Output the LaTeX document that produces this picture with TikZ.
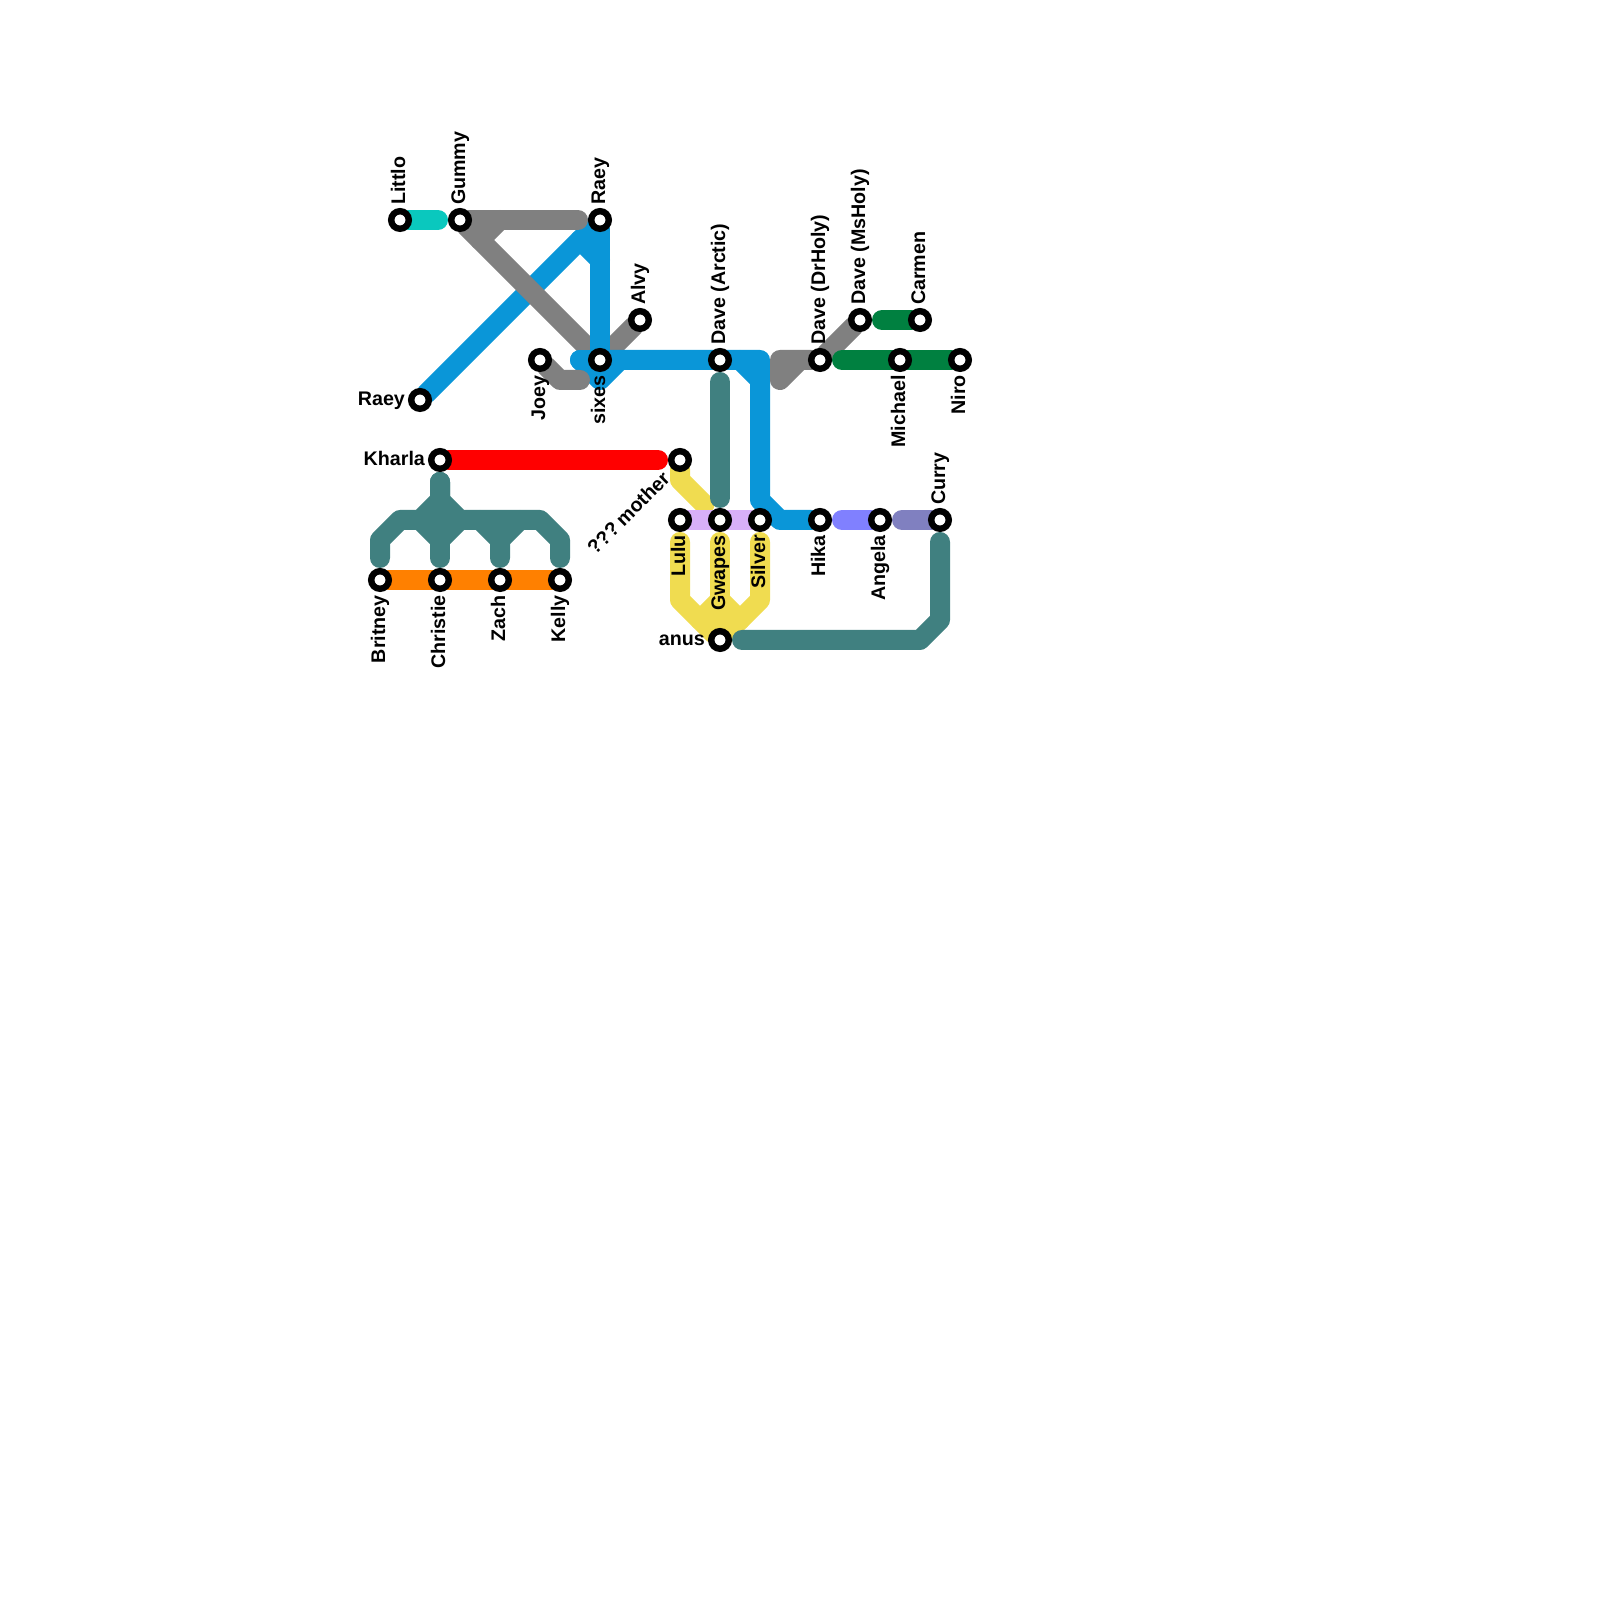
\documentclass[tikz,border=0pt]{standalone}
\usepackage{fontspec}
\setmainfont{Liberation Sans}
\usepackage{tikz}
\usetikzlibrary{backgrounds}

\definecolor{cyanline}{HTML}{0AC8BE}
\definecolor{greyline}{HTML}{808080}
\definecolor{blueline}{HTML}{0A96D8}
\definecolor{tealline}{HTML}{408080}
\definecolor{greenline}{HTML}{008040}
\definecolor{redline}{HTML}{FF0000}
\definecolor{orangeline}{HTML}{FF8000}
\definecolor{yellowline}{HTML}{F0DC50}
\definecolor{lilacline}{HTML}{D8B0F8}
\definecolor{violetline}{HTML}{8080FF}
\definecolor{slateline}{HTML}{8080C0}

\tikzset{
  stop/.style={circle, draw=black, fill=white, line width=.16cm, minimum size=.44cm, inner sep=0, outer sep=0},
  track/.style={line width=.5cm, line cap=round, line join=round},
  tail/.style={shorten <=.33cm},
  head/.style={shorten >=.33cm},
  name text/.style={inner sep=0, font=\fontsize{14}{16}\selectfont\bfseries},
  up text/.style={name text, rotate=90, anchor=base west},
  down text/.style={name text, rotate=90, anchor=base east},
  left text/.style={name text, anchor=base east}
}

\begin{document}
\begin{tikzpicture}
\useasboundingbox (0, 0) rectangle (40, 40);

\node[stop] (littlo) at (10, 34.5) {};
\node[stop] (gummy) at (11.5, 34.5) {};
\node[stop] (raeyn) at (15, 34.5) {};
\node[stop] (raeys) at (10.5, 30) {};
\node[stop] (alvy) at (16, 32) {};
\node[stop] (sixes) at (15, 31) {};
\node[stop] (joey) at (13.5, 31) {};
\node[stop] (arctic) at (18, 31) {};
\node[stop] (drholy) at (20.5, 31) {};
\node[stop] (msholy) at (21.5, 32) {};
\node[stop] (carmen) at (23, 32) {};
\node[stop] (michael) at (22.5, 31) {};
\node[stop] (niro) at (24, 31) {};
\node[stop] (kharla) at (11, 28.5) {};
\node[stop] (mother) at (17, 28.5) {};
\node[stop] (britney) at (9.5, 25.5) {};
\node[stop] (christie) at (11, 25.5) {};
\node[stop] (zach) at (12.5, 25.5) {};
\node[stop] (kelly) at (14, 25.5) {};
\node[stop] (lulu) at (17, 27) {};
\node[stop] (gwapes) at (18, 27) {};
\node[stop] (silver) at (19, 27) {};
\node[stop] (hika) at (20.5, 27) {};
\node[stop] (angela) at (22, 27) {};
\node[stop] (curry) at (23.5, 27) {};
\node[stop] (anus) at (18, 24) {};

\coordinate (gfork) at (11, 27.5);
\coordinate (gleft) at (10.5, 27);
\coordinate (gmid) at (11.5, 27);

\begin{scope}[on background layer]
\draw[track, blueline] (raeyn) -- (raeys);
\draw[track, cyanline, head] (littlo) -- (gummy);
\draw[track, greyline, head] (gummy) -- (raeyn);
\draw[track, greyline, head] (gummy) -- (sixes);
\draw[track, greyline] (12.5, 34.5) -- (12, 34);
\draw[track, greyline, head] (alvy) -- (sixes);
\draw[track, blueline] (raeyn) -- (sixes);
\draw[track, blueline] (15, 33.5) -- (14.5, 34);
\draw[track, blueline] (14.5, 31) -- (sixes);
\draw[track, blueline] (sixes) -- (19, 31) -- (19, 27.5) -- (19.5, 27) -- (hika);
\draw[track, blueline] (14.5, 31) -- (15, 30.5) -- (15.5, 31);
\draw[track, blueline] (18.5, 31) -- (19, 30.5);
\draw[track, greyline] (joey) -- (14, 30.5) -- (14.5, 30.5);
\draw[track, greyline] (msholy) -- (drholy);
\draw[track, greyline] (drholy) -- (19.5, 31) -- (19.5, 30.5) -- (20, 31);
\draw[track, greenline, head] (niro) -- (drholy);
\draw[track, greenline, head] (carmen) -- (msholy);

\draw[track, redline, head] (kharla) -- (mother);
\draw[track, orangeline] (britney) -- (kelly);
\draw[track, tealline, tail, head] (kharla) -- (gfork) -- (gleft) -- (10, 27) -- (9.5, 26.5) -- (britney);
\draw[track, tealline, tail, head] (kharla) -- (gfork) -- (gmid) -- (13.5, 27) -- (14, 26.5) -- (kelly);
\draw[track, tealline, tail, head] (kharla) -- (christie);
\draw[track, tealline] (gleft) -- (11, 26.5) -- (gmid);
\draw[track, tealline, head] (12, 27) -- (12.5, 26.5) -- (zach);
\draw[track, tealline] (12.5, 26.5) -- (13, 27);

\draw[track, yellowline, head] (mother) -- (17, 28) -- (gwapes);
\draw[track, lilacline] (lulu) -- (silver);
\draw[track, violetline, tail] (hika) -- (angela);
\draw[track, slateline, tail] (angela) -- (curry);
\draw[track, yellowline, tail] (lulu) -- (17, 25) -- (anus);
\draw[track, yellowline, tail] (gwapes) -- (anus);
\draw[track, yellowline] (17.5, 24.5) -- (18, 25) -- (18.5, 24.5);
\draw[track, yellowline, tail] (silver) -- (19, 25) -- (anus);
\draw[track, tealline, tail, head] (arctic) -- (gwapes);
\draw[track, tealline, tail, head] (anus) -- (23, 24) -- (23.5, 24.5) -- (curry);
\end{scope}

\node[up text] (tlittlo) at (10.125, 34.87) {Littlo};
\node[up text] (tgummy) at (11.625, 34.87) {Gummy};
\node[up text] (traeyn) at (15.125, 34.87) {Raey};
\node[up text] (talvy) at (16.125, 32.37) {Alvy};
\node[up text] (tarctic) at (18.125, 31.37) {Dave (Arctic)};
\node[up text] (tdrholy) at (20.625, 31.37) {Dave (DrHoly)};
\node[up text] (tmsholy) at (21.625, 32.37) {Dave (MsHoly)};
\node[up text] (tcarmen) at (23.125, 32.37) {Carmen};
\node[up text] (tcurry) at (23.625, 27.37) {Curry};
\node[down text] (tjoey) at (13.625, 30.625) {Joey};
\node[down text] (tsixes) at (15.125, 30.625) {sixes};
\node[down text] (tmichael) at (22.625, 30.625) {Michael};
\node[down text] (tniro) at (24.125, 30.625) {Niro};
\node[down text] (tbritney) at (9.625, 25.125) {Britney};
\node[down text] (tchristie) at (11.125, 25.125) {Christie};
\node[down text] (tzach) at (12.625, 25.125) {Zach};
\node[down text] (tkelly) at (14.125, 25.125) {Kelly};
\node[down text] (tlulu) at (17.125, 26.625) {Lulu};
\node[down text] (tgwapes) at (18.125, 26.625) {Gwapes};
\node[down text] (tsilver) at (19.125, 26.625) {Silver};
\node[down text] (thika) at (20.625, 26.625) {Hika};
\node[down text] (tangela) at (22.125, 26.625) {Angela};
\node[left text] (traeys) at (10.13, 29.85) {Raey};
\node[left text] (tkharla) at (10.63, 28.35) {Kharla};
\node[left text] (tanus) at (17.63, 23.85) {anus};
\node[left text, rotate=45] (tmother) at (16.78, 28.0) {\spaceskip=.12em ??? mother};
\end{tikzpicture}
\end{document}
